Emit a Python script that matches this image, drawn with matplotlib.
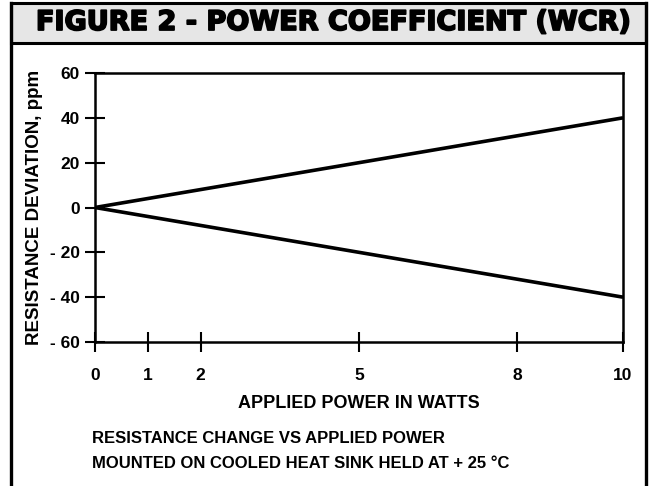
import matplotlib
matplotlib.use("Agg")
from matplotlib import pyplot as plt
from matplotlib import patheffects
from matplotlib.patches import Rectangle
from matplotlib.lines import Line2D

power = [0, 10]
upper = [0, 40]
lower = [0, -40]
xticks = [0, 1, 2, 5, 8, 10]
yticks = [-60, -40, -20, 0, 20, 40, 60]
ylabels = ["- 60", "- 40", "- 20", "0", "20", "40", "60"]

plt.rcParams['font.family'] = ['Liberation Sans', 'DejaVu Sans']

W, H = 650, 486
fig = plt.figure(figsize=(W / 100, H / 100), dpi=100)

def fx(px):
    return px / W

def fy(py):
    return 1 - py / H

# header band and outer frame
fig.patches.append(Rectangle((fx(11), fy(43)), fx(646) - fx(11), fy(3) - fy(43),
                             transform=fig.transFigure, facecolor="#e6e6e6",
                             edgecolor="black", linewidth=2.2))
for xs, ys in [([11, 11], [3, 486]), ([646, 646], [3, 486])]:
    fig.add_artist(Line2D([fx(x) for x in xs], [fy(y) for y in ys],
                          transform=fig.transFigure, color="black", linewidth=2.4))

fig.text(fx(334), fy(23), "FIGURE 2 - POWER COEFFICIENT (WCR)", ha="center", va="center",
         fontsize=19.5, fontweight="bold", family="DejaVu Sans",
         path_effects=[patheffects.withStroke(linewidth=1.3, foreground="black")])

ax = fig.add_axes([fx(95), fy(342), fx(623) - fx(95), fy(73) - fy(342)])
ax.plot(power, upper, color="black", linewidth=2.6, solid_capstyle="butt")
ax.plot(power, lower, color="black", linewidth=2.6, solid_capstyle="butt")
ax.set_xlim(0, 10)
ax.set_ylim(-60, 60)
for s in ax.spines.values():
    s.set_linewidth(1.8)

ax.set_xticks(xticks)
ax.set_xticklabels([str(t) for t in xticks], fontsize=12.5, fontweight="bold")
ax.set_yticks(yticks)
ax.set_yticklabels(ylabels, fontsize=12.5, fontweight="bold")
ax.tick_params(axis="x", direction="inout", length=14, width=1.5, pad=12)
ax.tick_params(axis="y", direction="inout", length=14, width=1.5, pad=4)

ax.set_xlabel("APPLIED POWER IN WATTS", fontsize=13, fontweight="bold", labelpad=8)
ax.set_ylabel("RESISTANCE DEVIATION, ppm", fontsize=13.5, fontweight="bold", labelpad=5)

fig.text(fx(92), fy(438), "RESISTANCE CHANGE VS APPLIED POWER", ha="left", va="center",
         fontsize=12, fontweight="bold")
fig.text(fx(92), fy(463), "MOUNTED ON COOLED HEAT SINK HELD AT + 25 \u00b0C", ha="left",
         va="center", fontsize=12, fontweight="bold")

fig.savefig("out.png", dpi=100)
